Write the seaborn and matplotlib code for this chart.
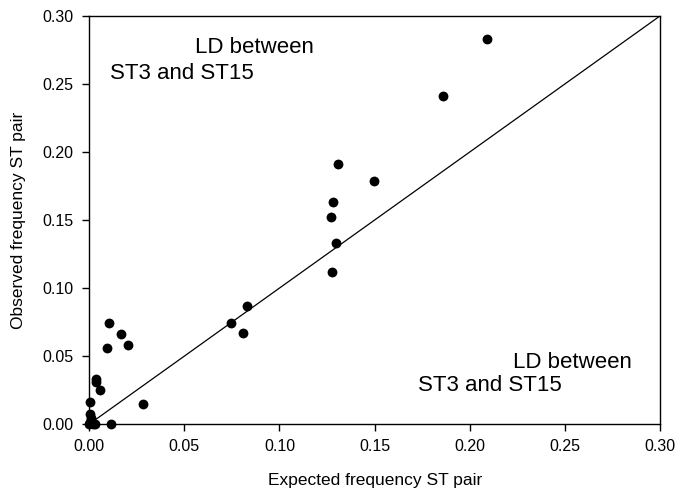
import matplotlib
matplotlib.use("Agg")
import matplotlib.pyplot as plt
import seaborn as sns
import pandas as pd

expected = [0.209, 0.186, 0.1307, 0.1495, 0.128, 0.1273, 0.1299, 0.1276,
            0.0748, 0.0832, 0.0808, 0.0103, 0.0168, 0.0205, 0.0093,
            0.0037, 0.0037, 0.0056, 0.0005, 0.0283, 0.0115,
            0.0005, 0.001, 0.0005, 0.0022, 0.003, 0.0]
observed = [0.283, 0.241, 0.191, 0.179, 0.1635, 0.152, 0.133, 0.1115,
            0.0743, 0.0868, 0.0667, 0.0745, 0.0662, 0.0583, 0.0559,
            0.0333, 0.0311, 0.0255, 0.0162, 0.0152, 0.0005,
            0.0075, 0.0045, 0.0015, 0.0005, 0.0, 0.0]
diag = [0.0, 0.30]
ticks = [0.00, 0.05, 0.10, 0.15, 0.20, 0.25, 0.30]
tick_labels = ["0.00", "0.05", "0.10", "0.15", "0.20", "0.25", "0.30"]

sns.set_style("ticks")
plt.rcParams['font.family'] = ['Liberation Sans', 'DejaVu Sans']
plt.rcParams['text.color'] = 'black'
plt.rcParams['axes.labelcolor'] = 'black'

fig = plt.figure(figsize=(6.75, 4.95), dpi=100)
ax = fig.add_axes([0.132, 0.143, 0.846, 0.825])

df = pd.DataFrame({"Expected": expected, "Observed": observed})
sns.lineplot(x=diag, y=diag, ax=ax, color="black", linewidth=0.9)
sns.scatterplot(data=df, x="Expected", y="Observed", ax=ax, color="black",
                s=50, edgecolor="black", linewidth=0, zorder=3, clip_on=False)

ax.set_xlim(0, 0.30)
ax.set_ylim(0, 0.30)
ax.set_xticks(ticks)
ax.set_xticklabels(tick_labels, fontsize=11.5, color="black")
ax.set_yticks(ticks)
ax.set_yticklabels(tick_labels, fontsize=11.5, color="black")
ax.tick_params(direction="out", length=5, width=1, colors="black", pad=6)
for s in ax.spines.values():
    s.set_visible(True)
    s.set_color("black")
    s.set_linewidth(1)

ax.set_xlabel("Expected frequency ST pair", fontsize=12.5, labelpad=13, color="black")
ax.set_ylabel("Observed frequency ST pair", fontsize=12.5, labelpad=12, color="black")

ax.text(0.0557, 0.2765, "LD between", fontsize=16, ha="left", va="center", color="black")
ax.text(0.011, 0.258, "ST3 and ST15", fontsize=16, ha="left", va="center", color="black")
ax.text(0.2228, 0.0456, "LD between", fontsize=16, ha="left", va="center", color="black")
ax.text(0.1729, 0.0287, "ST3 and ST15", fontsize=16, ha="left", va="center", color="black")

fig.savefig("out.png", dpi=100)
